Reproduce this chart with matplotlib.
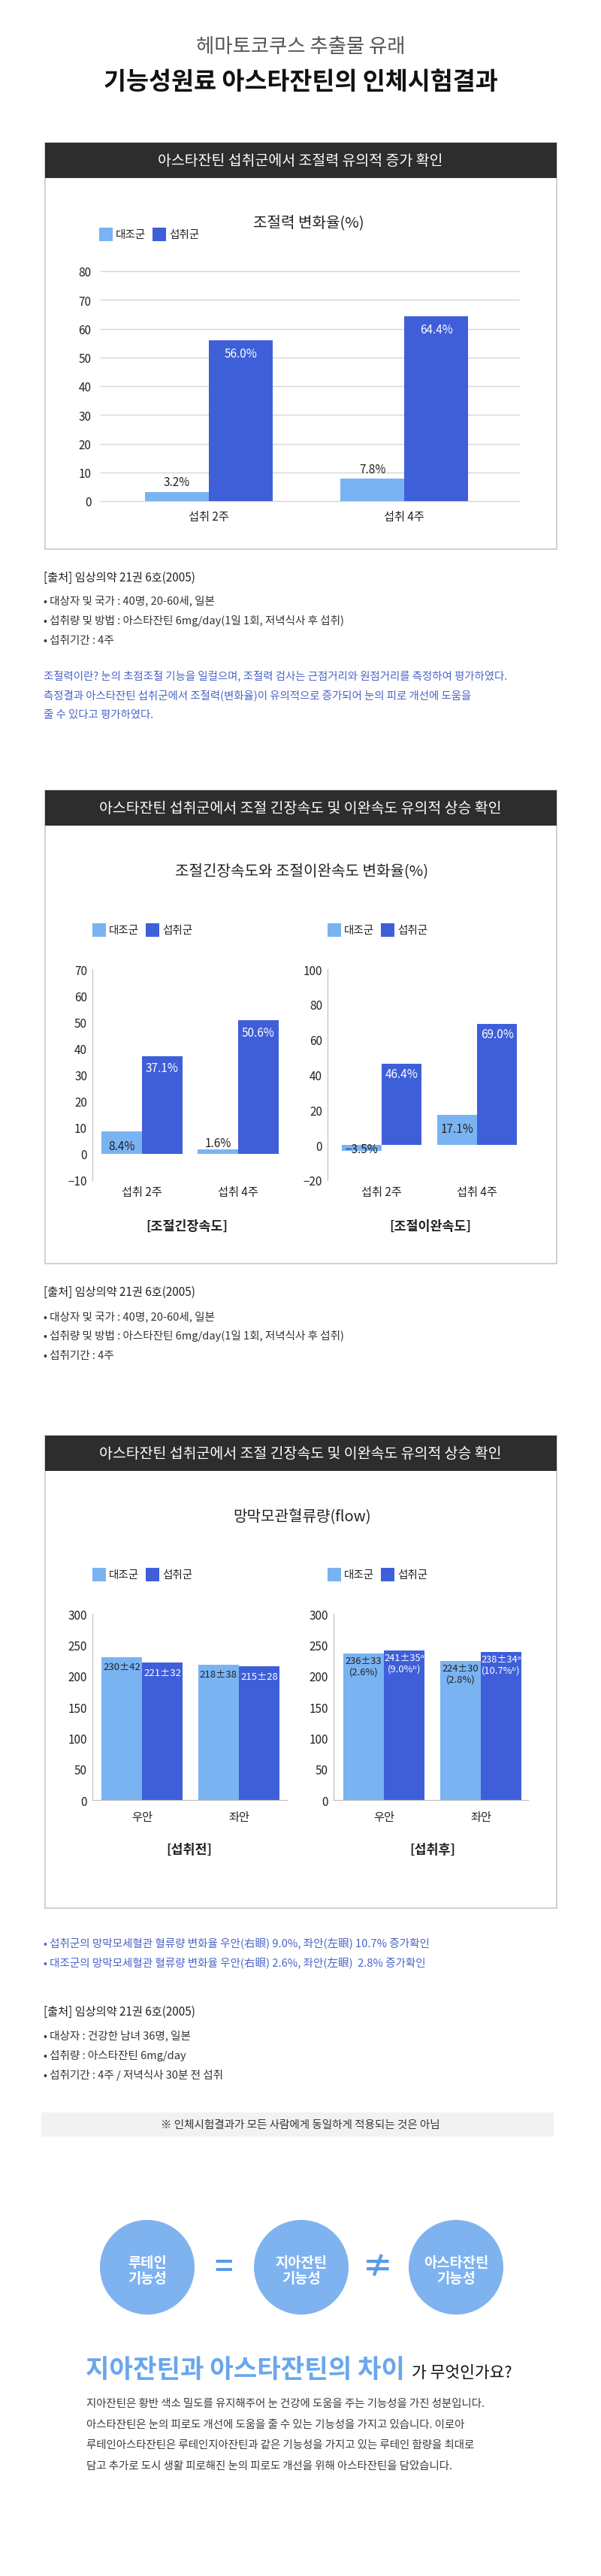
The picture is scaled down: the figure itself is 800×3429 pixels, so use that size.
import numpy as np
import matplotlib
matplotlib.use("Agg")
import matplotlib.pyplot as plt
from matplotlib.patches import Rectangle, Circle

plt.rcParams['font.family'] = ['Noto Sans CJK KR', 'DejaVu Sans']

# ---- data ----
series_names = ["대조군", "섭취군"]
weeks = ["섭취 2주", "섭취 4주"]
eyes = ["우안", "좌안"]

accom_ctrl = [3.2, 7.8]
accom_intake = [56.0, 64.4]

tension_ctrl = [8.4, 1.6]
tension_intake = [37.1, 50.6]
relax_ctrl = [-3.5, 17.1]
relax_intake = [46.4, 69.0]

flow_pre_ctrl = [230, 218]
flow_pre_ctrl_sd = [42, 38]
flow_pre_intake = [221, 215]
flow_pre_intake_sd = [32, 28]
flow_post_ctrl = [236, 224]
flow_post_ctrl_sd = [33, 30]
flow_post_ctrl_pct = [2.6, 2.8]
flow_post_intake = [241, 238]
flow_post_intake_sd = [35, 34]
flow_post_intake_pct = [9.0, 10.7]

LIGHT = '#79b3f2'
DARK = '#3f5fd9'
W, H = 800, 3430

fig = plt.figure(figsize=(W / 100, H / 100), dpi=100)
bg = fig.add_axes([0, 0, 1, 1])
bg.set_xlim(0, W)
bg.set_ylim(H, 0)
bg.axis('off')


def px_axes(left, top, right, bottom):
    ax = fig.add_axes([left / W, 1 - bottom / H, (right - left) / W, (bottom - top) / H])
    ax.set_facecolor('none')
    return ax


def txt(x, y, s, size, color='#222222', ha='left', weight='normal', **kw):
    return bg.text(x, y, s, fontsize=size, color=color, ha=ha, va='center', fontweight=weight, **kw)


def section_box(top, bottom, header):
    bg.add_patch(Rectangle((60, top), 681, bottom - top, facecolor='white', edgecolor='#c8c8c8', lw=1.2))
    bg.add_patch(Rectangle((60, top), 681, 47, facecolor='#2d2d2d', edgecolor='none'))
    txt(400, top + 24, header, 14, color='white', ha='center')


def legend(x, y):
    bg.add_patch(Rectangle((x, y - 9), 18, 18, facecolor=LIGHT, edgecolor='none'))
    txt(x + 22, y, series_names[0], 10.5)
    bg.add_patch(Rectangle((x + 71, y - 9), 18, 18, facecolor=DARK, edgecolor='none'))
    txt(x + 93, y, series_names[1], 10.5)


def bar_label(ax, x, v, s, offset_px, color, va='center', size=10.5):
    ax.annotate(s, (x, v), xytext=(0, offset_px * 0.72), textcoords='offset points',
                ha='center', va=va, fontsize=size, color=color, annotation_clip=False)


# ---- header ----
txt(400, 62, "헤마토코쿠스 추출물 유래", 19, color='#555555', ha='center')
txt(400, 110, "기능성원료 아스타잔틴의 인체시험결과", 23.5, color='#111111', ha='center', weight='bold')

# ---- section 1 ----
section_box(191, 732, "아스타잔틴 섭취군에서 조절력 유의적 증가 확인")
txt(411, 297, "조절력 변화율(%)", 14.5, ha='center')
legend(132, 313)

ax1 = px_axes(134, 362, 691, 668)
x = np.arange(len(weeks))
w1 = 0.327
ax1.set_xlim(-0.554, 1.588)
ax1.set_ylim(0, 80)
for t in range(0, 81, 10):
    ax1.axhline(t, color='#d6d6d6', lw=1, zorder=0, clip_on=False)
ax1.bar(x - w1 / 2, accom_ctrl, w1, color=LIGHT, zorder=2)
ax1.bar(x + w1 / 2, accom_intake, w1, color=DARK, zorder=2)
for i in range(len(weeks)):
    bar_label(ax1, x[i] - w1 / 2, accom_ctrl[i], f"{accom_ctrl[i]:.1f}%", 13, '#222222', size=11)
    bar_label(ax1, x[i] + w1 / 2, accom_intake[i], f"{accom_intake[i]:.1f}%", -18, 'white', size=11)
ax1.set_yticks(range(0, 81, 10))
ax1.set_xticks(x)
ax1.set_xticklabels(weeks)
ax1.tick_params(length=0, labelsize=11, colors='#222222')
ax1.tick_params(axis='y', pad=9)
ax1.tick_params(axis='x', pad=9)
for sp in ax1.spines.values():
    sp.set_visible(False)

txt(58, 769, "[출처] 임상의약 21권 6호(2005)", 11)
src_lines = ["• 대상자 및 국가 : 40명, 20-60세, 일본",
             "• 섭취량 및 방법 : 아스타잔틴 6mg/day(1일 1회, 저녁식사 후 섭취)",
             "• 섭취기간 : 4주"]
for k, s in enumerate(src_lines):
    txt(58, 800 + k * 26.5, s, 10.5, color='#333333')
blue_lines = ["조절력이란? 눈의 초점조절 기능을 일컬으며, 조절력 검사는 근점거리와 원점거리를 측정하여 평가하였다.",
              "측정결과 아스타잔틴 섭취군에서 조절력(변화율)이 유의적으로 증가되어 눈의 피로 개선에 도움을",
              "줄 수 있다고 평가하였다."]
for k, s in enumerate(blue_lines):
    txt(58, 900 + k * 26, s, 10.4, color='#4a64c8')

# ---- section 2 ----
section_box(1053, 1683, "아스타잔틴 섭취군에서 조절 긴장속도 및 이완속도 유의적 상승 확인")
txt(402, 1160, "조절긴장속도와 조절이완속도 변화율(%)", 14.5, ha='center')
legend(123, 1239)
legend(436, 1239)


def style_simple(ax, bottom_spine=False):
    for name, sp in ax.spines.items():
        sp.set_visible(name == 'left' or (bottom_spine and name == 'bottom'))
        sp.set_color('#bdbdbd')
    ax.tick_params(length=0, labelsize=11, colors='#222222')
    ax.tick_params(axis='y', pad=5)


ax2 = px_axes(123, 1291, 390, 1572)
w2 = 0.42
ax2.set_xlim(-0.516, 1.57)
ax2.set_ylim(-10, 70)
ax2.bar(x - w2 / 2, tension_ctrl, w2, color=LIGHT)
ax2.bar(x + w2 / 2, tension_intake, w2, color=DARK)
bar_label(ax2, x[0] - w2 / 2, tension_ctrl[0], f"{tension_ctrl[0]:.1f}%", -19, '#222222', size=11)
bar_label(ax2, x[1] - w2 / 2, tension_ctrl[1], f"{tension_ctrl[1]:.1f}%", 9, '#222222', size=11)
for i in range(len(weeks)):
    bar_label(ax2, x[i] + w2 / 2, tension_intake[i], f"{tension_intake[i]:.1f}%", -16, 'white', size=11)
ax2.set_yticks(range(-10, 71, 10))
ax2.set_xticks(x)
ax2.set_xticklabels(weeks)
style_simple(ax2)
ax2.tick_params(axis='x', pad=5)

ax3 = px_axes(436, 1291, 700, 1572)
ax3.set_xlim(-0.567, 1.512)
ax3.set_ylim(-20, 100)
ax3.bar(x - w2 / 2, relax_ctrl, w2, color=LIGHT)
ax3.bar(x + w2 / 2, relax_intake, w2, color=DARK)
bar_label(ax3, x[0] - w2 / 2, 0, f"{relax_ctrl[0]:.1f}%".replace('-', '−'), -5, '#222222', size=11)
bar_label(ax3, x[1] - w2 / 2, relax_ctrl[1], f"{relax_ctrl[1]:.1f}%", -18, '#222222', size=11)
for i in range(len(weeks)):
    bar_label(ax3, x[i] + w2 / 2, relax_intake[i], f"{relax_intake[i]:.1f}%", -14, 'white', size=11)
ax3.set_yticks(range(-20, 101, 20))
ax3.set_xticks(x)
ax3.set_xticklabels(weeks)
style_simple(ax3)
ax3.tick_params(axis='x', pad=5)

txt(249, 1633, "[조절긴장속도]", 12.5, ha='center', weight='bold')
txt(573, 1633, "[조절이완속도]", 12.5, ha='center', weight='bold')

txt(58, 1720, "[출처] 임상의약 21권 6호(2005)", 11)
for k, s in enumerate(src_lines):
    txt(58, 1753 + k * 26, s, 10.5, color='#333333')

# ---- section 3 ----
section_box(1912, 2541, "아스타잔틴 섭취군에서 조절 긴장속도 및 이완속도 유의적 상승 확인")
txt(402, 2020, "망막모관혈류량(flow)", 14.5, ha='center')
legend(123, 2097)
legend(436, 2097)

ax4 = px_axes(123, 2149, 382, 2397)
ax4.set_xlim(-0.512, 1.496)
ax4.set_ylim(0, 300)
ax4.bar(x - w2 / 2, flow_pre_ctrl, w2, color=LIGHT)
ax4.bar(x + w2 / 2, flow_pre_intake, w2, color=DARK)
for i in range(len(eyes)):
    bar_label(ax4, x[i] - w2 / 2, flow_pre_ctrl[i], f"{flow_pre_ctrl[i]}±{flow_pre_ctrl_sd[i]}", -13, '#222222', size=9.5)
    bar_label(ax4, x[i] + w2 / 2, flow_pre_intake[i], f"{flow_pre_intake[i]}±{flow_pre_intake_sd[i]}", -13, 'white', size=9.5)
ax4.set_yticks(range(0, 301, 50))
ax4.set_xticks(x)
ax4.set_xticklabels(eyes)
style_simple(ax4, bottom_spine=True)
ax4.tick_params(axis='x', pad=10)

ax5 = px_axes(444, 2149, 703, 2397)
ax5.set_xlim(-0.519, 1.488)
ax5.set_ylim(0, 300)
ax5.bar(x - w2 / 2, flow_post_ctrl, w2, color=LIGHT)
ax5.bar(x + w2 / 2, flow_post_intake, w2, color=DARK)
for i in range(len(eyes)):
    s1 = f"{flow_post_ctrl[i]}±{flow_post_ctrl_sd[i]}\n({flow_post_ctrl_pct[i]:.1f}%)"
    s2 = f"{flow_post_intake[i]}±{flow_post_intake_sd[i]}ᵃ\n({flow_post_intake_pct[i]:.1f}%ᵇ)"
    ax5.annotate(s1, (x[i] - w2 / 2, flow_post_ctrl[i]), xytext=(0, -2), textcoords='offset points',
                 ha='center', va='top', fontsize=9.3, color='#222222', linespacing=1.15)
    ax5.annotate(s2, (x[i] + w2 / 2, flow_post_intake[i]), xytext=(0, -2), textcoords='offset points',
                 ha='center', va='top', fontsize=9.3, color='white', linespacing=1.15)
ax5.set_yticks(range(0, 301, 50))
ax5.set_xticks(x)
ax5.set_xticklabels(eyes)
style_simple(ax5, bottom_spine=True)
ax5.tick_params(axis='x', pad=10)

txt(252, 2463, "[섭취전]", 12.5, ha='center', weight='bold')
txt(576, 2463, "[섭취후]", 12.5, ha='center', weight='bold')

txt(58, 2587, "• 섭취군의 망막모세혈관 혈류량 변화율 우안(右眼) 9.0%, 좌안(左眼) 10.7% 증가확인", 10.5, color='#4a64c8')
txt(58, 2613, "• 대조군의 망막모세혈관 혈류량 변화율 우안(右眼) 2.6%, 좌안(左眼)  2.8% 증가확인", 10.5, color='#4a64c8')

txt(58, 2678, "[출처] 임상의약 21권 6호(2005)", 11)
src3 = ["• 대상자 : 건강한 남녀 36명, 일본",
        "• 섭취량 : 아스타잔틴 6mg/day",
        "• 섭취기간 : 4주 / 저녁식사 30분 전 섭취"]
for k, s in enumerate(src3):
    txt(58, 2710 + k * 26.5, s, 10.5, color='#333333')

# ---- note + circles ----
bg.add_patch(Rectangle((55, 2813), 682, 32, facecolor='#f2f2f2', edgecolor='none'))
txt(400, 2829, "※ 인체시험결과가 모든 사람에게 동일하게 적용되는 것은 아님", 10.5, color='#333333', ha='center')

circle_text = ["루테인\n기능성", "지아잔틴\n기능성", "아스타잔틴\n기능성"]
for cx, s in zip([196, 401, 607], circle_text):
    bg.add_patch(Circle((cx, 3019), 63, facecolor='#7fb3ef', edgecolor='none'))
    bg.text(cx, 3023, s, fontsize=13.5, color='white', ha='center', va='center',
            fontweight='bold', linespacing=1.15)
bg.text(298, 3019, "=", fontsize=30, color='#5b9be6', ha='center', va='center', fontweight='bold')
bg.text(503, 3019, "≠", fontsize=30, color='#5b9be6', ha='center', va='center', fontweight='bold')

# heading: blue part fitted to its width, black part placed right after it
head = bg.text(114, 3165, "지아잔틴과 아스타잔틴의 차이", fontsize=23, color='#6aa7ec', ha='left',
               va='baseline', fontweight='bold')
fig.canvas.draw()
renderer = fig.canvas.get_renderer()
head_w = head.get_window_extent(renderer).width
head.set_fontsize(23 * 425 / head_w)
fig.canvas.draw()
head_x1 = bg.transData.inverted().transform(head.get_window_extent(renderer))[1][0]
bg.text(head_x1 + 9, 3165, "가 무엇인가요?", fontsize=15.5, color='#111111', ha='left', va='baseline')

para = ["지아잔틴은 황반 색소 밀도를 유지해주어 눈 건강에 도움을 주는 기능성을 가진 성분입니다.",
        "아스타잔틴은 눈의 피로도 개선에 도움을 줄 수 있는 기능성을 가지고 있습니다. 이로아",
        "루테인아스타잔틴은 루테인지아잔틴과 같은 기능성을 가지고 있는 루테인 함량을 최대로",
        "담고 추가로 도시 생활 피로해진 눈의 피로도 개선을 위해 아스타잔틴을 담았습니다."]
for k, s in enumerate(para):
    txt(115, 3200 + k * 27.7, s, 10.4, color='#3a3a3a')

fig.savefig("out.png", dpi=100)
